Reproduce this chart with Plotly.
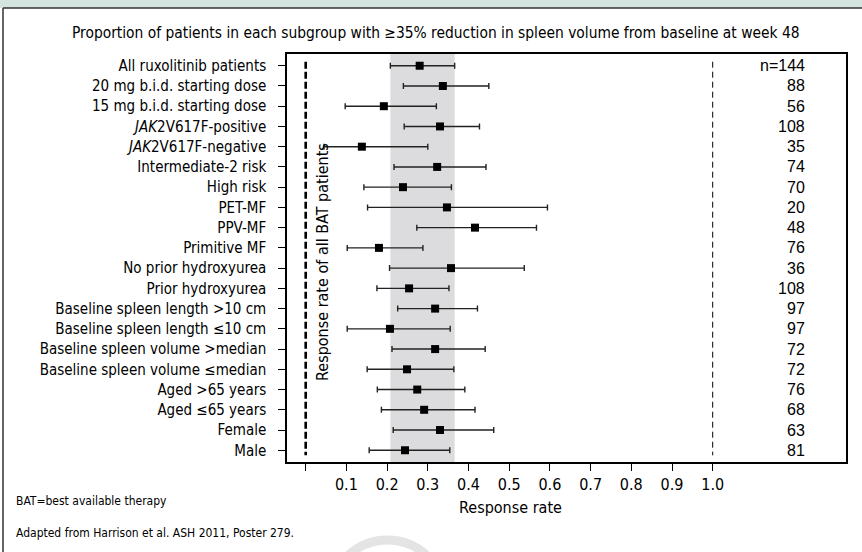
import plotly.graph_objects as go

subgroups = [
    "All ruxolitinib patients",
    "20 mg b.i.d. starting dose",
    "15 mg b.i.d. starting dose",
    "<i>JAK</i>2V617F-positive",
    "<i>JAK</i>2V617F-negative",
    "Intermediate-2 risk",
    "High risk",
    "PET-MF",
    "PPV-MF",
    "Primitive MF",
    "No prior hydroxyurea",
    "Prior hydroxyurea",
    "Baseline spleen length >10 cm",
    "Baseline spleen length ≤10 cm",
    "Baseline spleen volume >median",
    "Baseline spleen volume ≤median",
    "Aged >65 years",
    "Aged ≤65 years",
    "Female",
    "Male",
]
rate = [0.28, 0.337, 0.192, 0.330, 0.138, 0.323, 0.239, 0.347, 0.416, 0.180,
        0.357, 0.254, 0.318, 0.207, 0.318, 0.249, 0.274, 0.291, 0.330, 0.244]
ci_low = [0.208, 0.240, 0.097, 0.242, 0.045, 0.217, 0.143, 0.152, 0.273, 0.102,
          0.206, 0.175, 0.226, 0.102, 0.212, 0.151, 0.176, 0.186, 0.215, 0.156]
ci_high = [0.366, 0.450, 0.321, 0.427, 0.300, 0.443, 0.358, 0.594, 0.567, 0.288,
           0.537, 0.352, 0.422, 0.355, 0.441, 0.364, 0.391, 0.416, 0.462, 0.354]
n_labels = ["n=144", "88", "56", "108", "35", "74", "70", "20", "48", "76",
            "36", "108", "97", "97", "72", "72", "76", "68", "63", "81"]
x_ticks = [0.0, 0.1, 0.2, 0.3, 0.4, 0.5, 0.6, 0.7, 0.8, 0.9, 1.0]
x_ticktext = ["", "0.1", "0.2", "0.3", "0.4", "0.5", "0.6", "0.7", "0.8", "0.9", "1.0"]
bat_rate = 0.0
ref_max = 1.0

NARROW = "DejaVu Sans Condensed, Liberation Sans Narrow, Arial Narrow, sans-serif"
REG = "Liberation Sans, Arial, sans-serif"

ypos = list(range(len(subgroups)))

fig = go.Figure()
fig.add_trace(go.Scatter(
    x=rate, y=ypos, mode="markers",
    marker=dict(symbol="square", size=8, color="black"),
    error_x=dict(type="data", symmetric=False,
                 array=[h - r for h, r in zip(ci_high, rate)],
                 arrayminus=[r - l for r, l in zip(rate, ci_low)],
                 color="#222222", thickness=1.4, width=3),
    showlegend=False, hoverinfo="skip",
))

shapes = []
# grey band = CI of all patients
shapes.append(dict(type="rect", xref="x", yref="paper", x0=ci_low[0], x1=ci_high[0],
                   y0=0, y1=1, fillcolor="#dcdcde", line=dict(width=0), layer="below"))
# BAT response rate line (thick dashed)
shapes.append(dict(type="line", xref="x", yref="y", x0=bat_rate, x1=bat_rate,
                   y0=-0.2, y1=19.25, line=dict(color="black", width=2.6, dash="7px,3px")))
# reference line at 1.0
shapes.append(dict(type="line", xref="x", yref="y", x0=ref_max, x1=ref_max,
                   y0=-0.2, y1=19.25, line=dict(color="black", width=1, dash="6px,4px")))

# outer frame decorations (paper coordinates from pixel layout)
L, R, T, B = 287, 846, 54, 462
W, H = R - L, B - T
def px(x):
    return (x - L) / W
def py(y):
    return (B - y) / H

shapes.append(dict(type="rect", xref="paper", yref="paper", x0=px(-5), x1=px(870),
                   y0=py(8), y1=py(-5), fillcolor="#d4e5e0", line=dict(width=0), layer="below"))
shapes.append(dict(type="line", xref="paper", yref="paper", x0=px(3), x1=px(870),
                   y0=py(8), y1=py(8), line=dict(color="#333333", width=1.5)))
shapes.append(dict(type="line", xref="paper", yref="paper", x0=px(3), x1=px(3),
                   y0=py(8), y1=py(560), line=dict(color="#333333", width=1.5)))
# faint watermark arc at bottom
shapes.append(dict(type="circle", xref="paper", yref="paper", x0=px(330), x1=px(445),
                   y0=py(655), y1=py(540), line=dict(color="#e4e4e4", width=9),
                   fillcolor="rgba(0,0,0,0)", layer="below"))

annotations = []
for i, t in enumerate(n_labels):
    annotations.append(dict(x=px(807), xref="paper", y=ypos[i], yref="y", text=t,
                            showarrow=False, xanchor="right", yanchor="middle",
                            font=dict(family=REG, size=16, color="black")))
annotations.append(dict(x=px(322), xref="paper", y=py(262), yref="paper",
                        text="Response rate of all BAT patients", textangle=-90,
                        showarrow=False, xanchor="center", yanchor="middle",
                        font=dict(family=NARROW, size=16, color="black")))
annotations.append(dict(x=px(436), xref="paper", y=py(33), yref="paper",
                        text="Proportion of patients in each subgroup with ≥35% reduction in spleen volume from baseline at week 48",
                        showarrow=False, xanchor="center", yanchor="middle",
                        font=dict(family=NARROW, size=15.4, color="black")))
annotations.append(dict(x=px(14), xref="paper", y=py(501), yref="paper",
                        text="BAT=best available therapy", showarrow=False,
                        xanchor="left", yanchor="middle",
                        font=dict(family=NARROW, size=12, color="black")))
annotations.append(dict(x=px(14), xref="paper", y=py(533), yref="paper",
                        text="Adapted from Harrison et al. ASH 2011, Poster 279.", showarrow=False,
                        xanchor="left", yanchor="middle",
                        font=dict(family=NARROW, size=12, color="black")))
annotations.append(dict(x=px(510), xref="paper", y=py(507), yref="paper",
                        text="Response rate", showarrow=False,
                        xanchor="center", yanchor="middle",
                        font=dict(family=NARROW, size=16, color="black")))

x0_px = 305.7
scale = 407.0
fig.update_layout(
    width=862, height=552,
    margin=dict(l=L, r=862 - R, t=T, b=552 - B),
    paper_bgcolor="white", plot_bgcolor="white",
    shapes=shapes, annotations=annotations,
    xaxis=dict(range=[(L - x0_px) / scale, (R - x0_px) / scale],
               tickvals=x_ticks, ticktext=x_ticktext,
               ticks="outside", ticklen=7, tickwidth=1.3, tickcolor="black",
               showgrid=False, zeroline=False,
               showline=True, linecolor="black", linewidth=1.5, mirror=True,
               tickfont=dict(family=NARROW, size=16, color="black")),
    yaxis=dict(range=[19.58, -0.58], tickvals=ypos, ticktext=subgroups,
               ticks="outside", ticklen=7, tickwidth=1.3, tickcolor="black",
               ticklabelstandoff=9,
               showgrid=False, zeroline=False,
               showline=True, linecolor="black", linewidth=1.5, mirror=True,
               tickfont=dict(family=NARROW, size=15, color="black")),
)

fig.write_html("out.html")
